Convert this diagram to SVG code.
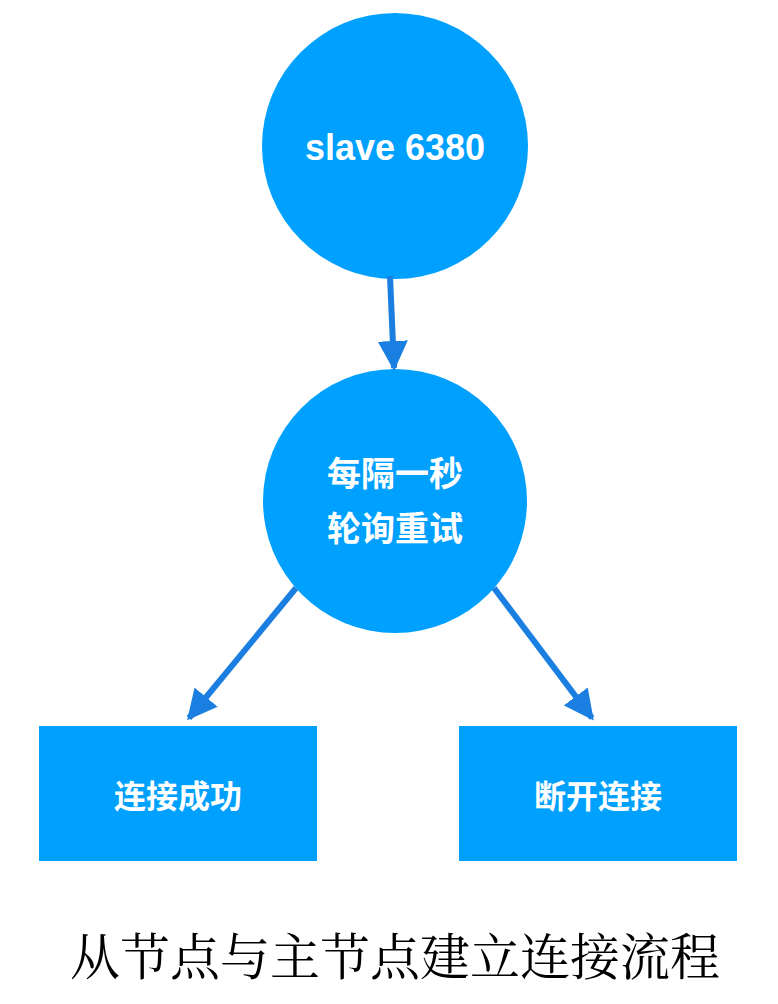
<svg xmlns="http://www.w3.org/2000/svg" width="778" height="1004" viewBox="0 0 778 1004">
<style>
.n{fill:#00a0fe}
.t{fill:#fff;font-family:"Liberation Sans","Noto Sans CJK SC",sans-serif;font-weight:bold;text-anchor:middle}
.c{stroke:#1a7fe0;stroke-width:6;fill:none}
</style>
<defs><marker id="a" viewBox="0 0 10 10" refX="9" refY="5" markerWidth="5" markerHeight="5" orient="auto" markerUnits="strokeWidth"><path d="M0,0L10,5L0,10z" fill="#1a7fe0"/></marker></defs>
<rect width="778" height="1004" fill="#fff"/>
<g id="slave"><circle class="n" cx="395" cy="146" r="133"/><text class="t" x="395" y="160" font-size="36">slave 6380</text></g>
<g id="retry"><circle class="n" cx="395" cy="501" r="132"/><text class="t" x="395" y="486" font-size="34">每隔一秒</text><text class="t" x="395" y="541" font-size="34">轮询重试</text></g>
<g id="ok"><rect class="n" x="39" y="726" width="278" height="135"/><text class="t" x="178" y="808" font-size="32">连接成功</text></g>
<g id="fail"><rect class="n" x="459" y="726" width="278" height="135"/><text class="t" x="598" y="808" font-size="32">断开连接</text></g>
<g id="connectors">
<path class="c" d="M390,276L394,368" marker-end="url(#a)"/>
<path class="c" d="M296,588L189,718" marker-end="url(#a)"/>
<path class="c" d="M494,588L592,718" marker-end="url(#a)"/>
</g>
<text x="395" y="975" font-size="50" text-anchor="middle" font-family="'Noto Serif CJK SC','Noto Sans CJK SC',serif">从节点与主节点建立连接流程</text>
</svg>
